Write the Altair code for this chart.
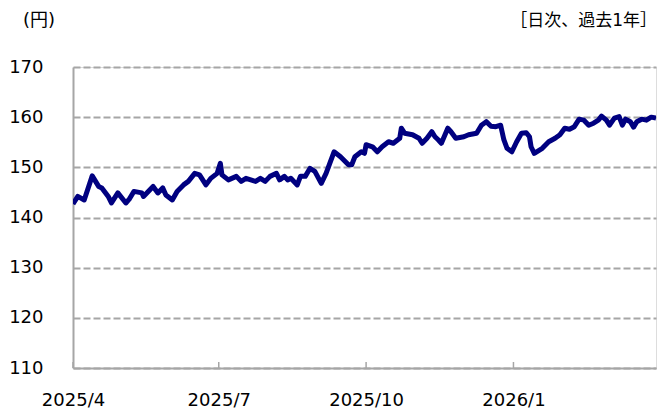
import altair as alt
import pandas as pd

dates = ["2025-04-01","2025-04-04","2025-04-08","2025-04-13","2025-04-17","2025-04-19","2025-04-23","2025-04-25","2025-04-29","2025-05-04",
"2025-05-06","2025-05-09","2025-05-14","2025-05-15","2025-05-21","2025-05-24","2025-05-27","2025-05-29","2025-06-02","2025-06-05",
"2025-06-09","2025-06-12","2025-06-16","2025-06-19","2025-06-23","2025-06-26","2025-06-30","2025-07-02","2025-07-03","2025-07-07",
"2025-07-12","2025-07-15","2025-07-18","2025-07-21","2025-07-24","2025-07-27","2025-07-30","2025-08-02","2025-08-06","2025-08-08",
"2025-08-11","2025-08-13","2025-08-15","2025-08-19","2025-08-21","2025-08-24","2025-08-27","2025-08-30","2025-09-03","2025-09-06",
"2025-09-11","2025-09-15","2025-09-20","2025-09-22","2025-09-24","2025-09-28","2025-09-30","2025-10-01","2025-10-05","2025-10-08",
"2025-10-11","2025-10-15","2025-10-18","2025-10-22","2025-10-23","2025-10-25","2025-10-30","2025-11-03","2025-11-05","2025-11-08",
"2025-11-11","2025-11-13","2025-11-15","2025-11-17","2025-11-21","2025-11-23","2025-11-26","2025-12-01","2025-12-04","2025-12-09",
"2025-12-12","2025-12-15","2025-12-18","2025-12-21","2025-12-24","2025-12-26","2025-12-28","2025-12-31","2026-01-03","2026-01-06",
"2026-01-09","2026-01-11","2026-01-12","2026-01-14","2026-01-19","2026-01-23","2026-01-27","2026-01-30","2026-02-02","2026-02-05",
"2026-02-08","2026-02-11","2026-02-14","2026-02-17","2026-02-20","2026-02-23","2026-02-25","2026-02-28","2026-03-02","2026-03-05",
"2026-03-08","2026-03-10","2026-03-12","2026-03-15","2026-03-17","2026-03-19","2026-03-22","2026-03-25","2026-03-28","2026-03-31"]

values = [142.7,144.2,143.5,148.3,146.2,145.9,144.2,142.9,144.9,142.9,
143.6,145.2,144.9,144.2,146.2,144.9,145.9,144.5,143.5,145.2,
146.5,147.2,148.8,148.5,146.5,147.8,148.8,150.8,148.5,147.5,
148.2,147.2,147.8,147.5,147.2,147.8,147.2,148.2,148.8,147.5,
148.2,147.5,147.8,146.5,148.2,148.2,149.8,149.2,146.8,148.8,
153.1,152.1,150.5,150.5,152.1,153.1,152.8,154.5,154.1,153.1,
154.1,155.1,154.8,155.8,157.8,156.8,156.5,155.8,154.8,155.8,
157.1,156.1,155.5,154.8,157.8,157.1,155.8,156.1,156.5,156.8,
158.4,159.1,158.2,158.1,158.4,155.5,153.8,153.1,155.1,156.8,
156.9,156.1,154.1,152.8,153.8,155.1,155.8,156.5,157.8,157.6,
158.1,159.6,159.4,158.4,158.8,159.4,160.2,159.4,158.4,159.8,
160.1,158.4,159.6,159.1,158.0,159.1,159.6,159.4,160.0,159.8]

tick_dates = ["2025-04-01", "2025-07-01", "2025-10-01", "2026-01-01"]
tick_labels = ["2025/4", "2025/7", "2025/10", "2026/1"]
y_ticks = [110, 120, 130, 140, 150, 160, 170]

df = pd.DataFrame({"date": pd.to_datetime(dates), "value": values})
ticks_df = pd.DataFrame({"date": pd.to_datetime(tick_dates)})

FONT = "DejaVu Sans, Noto Sans CJK JP"
GRAY = "#a6a6a6"

label_expr = "timeFormat(datum.value, '%Y') + '/' + (month(datum.value) + 1)"

xscale = alt.Scale(domain=["2025-04-01", "2026-03-31"])
yscale = alt.Scale(domain=[110, 170], nice=False)

PLOT_W = 583

line = alt.Chart(df).mark_line(color="#000080", strokeWidth=5, strokeJoin="round", clip=True).encode(
    x=alt.X("date:T", scale=xscale, axis=alt.Axis(
        values=tick_dates, labelExpr=label_expr, title=None, grid=False, ticks=False,
        domainColor=GRAY, domainWidth=2, labelFont=FONT, labelFontSize=18,
        labelColor="#000000", labelPadding=23, labelFlush=False)),
    y=alt.Y("value:Q", scale=yscale, axis=alt.Axis(
        values=y_ticks, title=None, ticks=False, grid=True, gridColor=GRAY,
        gridWidth=2, gridDash=[7, 3], domainColor=GRAY, domainWidth=2,
        labelFont=FONT, labelFontSize=18, labelColor="#000000", labelPadding=30)),
)

tick_marks = alt.Chart(ticks_df).mark_rule(color=GRAY, strokeWidth=1.5).encode(
    x=alt.X("date:T", scale=xscale),
    y=alt.value(301), y2=alt.value(295),
)

unit_text = alt.Chart(pd.DataFrame({"t": ["(円)"]})).mark_text(
    align="left", baseline="middle", font=FONT, fontSize=18, color="#000000"
).encode(x=alt.value(-50), y=alt.value(-46), text="t:N")

note_text = alt.Chart(pd.DataFrame({"t": ["［日次、過去1年］"]})).mark_text(
    align="right", baseline="middle", font=FONT, fontSize=17, color="#000000"
).encode(x=alt.value(PLOT_W + 1), y=alt.value(-46), text="t:N")

chart = alt.layer(tick_marks, line, unit_text, note_text).properties(
    width=PLOT_W, height=301,
    autosize=alt.AutoSizeParams(type="none"),
    padding={"left": 65, "top": 59, "right": 2, "bottom": 40},
).configure_view(stroke=GRAY, strokeWidth=2).configure(background="white")

chart.save("out.html", embed_options={"renderer": "svg", "actions": False})
